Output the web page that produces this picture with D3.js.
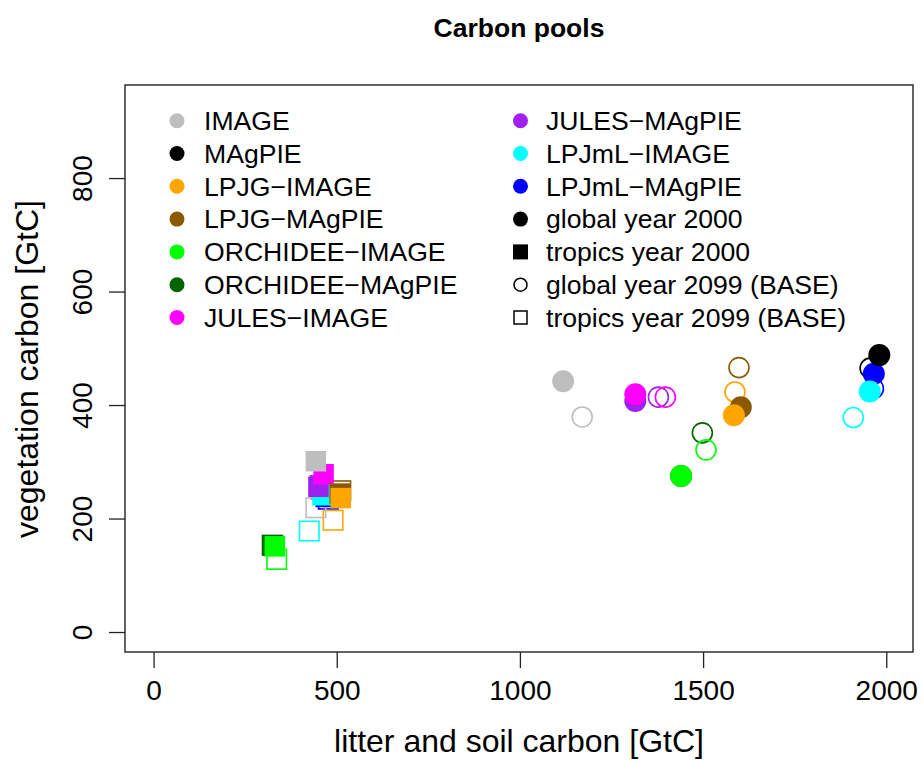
<!DOCTYPE html>
<html>
<head>
<meta charset="utf-8">
<script src="https://cdn.jsdelivr.net/npm/d3@7"></script>
<style>
  html, body { margin: 0; padding: 0; background: #fff; }
  svg { display: block; font-family: "Liberation Sans", Arial, Helvetica, sans-serif; }
</style>
</head>
<body>
<svg id="chart" width="923" height="761"></svg>
<script>
// Model runs and their colours
const models = ["IMAGE", "MAgPIE", "LPJG\u2212IMAGE", "LPJG\u2212MAgPIE", "ORCHIDEE\u2212IMAGE",
                "ORCHIDEE\u2212MAgPIE", "JULES\u2212IMAGE", "JULES\u2212MAgPIE", "LPJmL\u2212IMAGE", "LPJmL\u2212MAgPIE"];
const colors = ["#BEBEBE", "#000000", "#FFA500", "#8B5A00", "#00FF00",
                "#006400", "#FF00FF", "#A020F0", "#00FFFF", "#0000FF"];

// Litter and soil carbon (x) and vegetation carbon (y), GtC, per model (null = not available)
const globalSoil2000 = [1118, 1981, 1584, 1603, 1440, 1440, 1315, 1315, 1955, 1966];
const globalVeg2000  = [ 442,  488,  382,  396,  275,  275,  419,  407,  424,  455];
const globalSoil2099 = [1170, 1956, 1587, 1598, 1508, 1498, 1397, 1378, 1910, 1965];
const globalVeg2099  = [ 379,  465,  423,  466,  321,  351,  414,  414,  378,  429];
const tropicsSoil2000 = [443, null, 511, 508, 331, 327, 464, 450, 461, 470];
const tropicsVeg2000  = [301, null, 236, 244, 151, 152, 278, 256, 241, 238];
const tropicsSoil2099 = [443, null, 490, 511, 336, 324, 457, 455, 425, 477];
const tropicsVeg2099  = [219, null, 197, 249, 128, 153, 252, 258, 178, 234];

const xTicks = [0, 500, 1000, 1500, 2000];
const yTicks = [0, 200, 400, 600, 800];

const typeLabels = ["global year 2000", "tropics year 2000", "global year 2099 (BASE)", "tropics year 2099 (BASE)"];

const svg = d3.select("#chart");
const box = { left: 125, right: 913, top: 85, bottom: 652 };

const x = d3.scaleLinear().domain([-78, 2073]).range([box.left, box.right]);
const y = d3.scaleLinear().domain([-35.2, 964]).range([box.bottom, box.top]);

// Title
svg.append("text")
  .attr("x", (box.left + box.right) / 2).attr("y", 37)
  .attr("text-anchor", "middle")
  .attr("font-weight", "bold").attr("font-size", 26.5)
  .text("Carbon pools");

// Axes (R-style: ticks only, plot frame drawn separately)
const xAxis = d3.axisBottom(x).tickValues(xTicks).tickSize(16).tickFormat(d3.format("d"));
const gx = svg.append("g").attr("transform", `translate(0,${box.bottom})`).call(xAxis);
gx.select(".domain").remove();
gx.selectAll(".tick line").attr("stroke", "#222").attr("stroke-width", 1.3);
gx.selectAll(".tick text").attr("font-size", 28).attr("fill", "#000")
  .attr("dy", null).attr("y", 48);

const yAxis = d3.axisLeft(y).tickValues(yTicks).tickSize(16).tickFormat(d3.format("d"));
const gy = svg.append("g").attr("transform", `translate(${box.left},0)`).call(yAxis);
gy.select(".domain").remove();
gy.selectAll(".tick line").attr("stroke", "#222").attr("stroke-width", 1.3);
gy.selectAll(".tick text").attr("font-size", 28).attr("fill", "#000")
  .attr("x", null).attr("dy", null)
  .attr("text-anchor", "middle")
  .attr("transform", "translate(-33,0) rotate(-90)");

svg.append("rect")
  .attr("x", box.left).attr("y", box.top)
  .attr("width", box.right - box.left).attr("height", box.bottom - box.top)
  .attr("fill", "none").attr("stroke", "#222").attr("stroke-width", 1.4);

// Axis titles
svg.append("text")
  .attr("x", (box.left + box.right) / 2).attr("y", 752)
  .attr("text-anchor", "middle").attr("font-size", 32)
  .text("litter and soil carbon [GtC]");
svg.append("text")
  .attr("transform", `translate(38,${(box.top + box.bottom) / 2 + 0.5}) rotate(-90)`)
  .attr("text-anchor", "middle").attr("font-size", 32)
  .text("vegetation carbon [GtC]");

// Points
const plot = svg.append("g");
const order = d3.range(models.length).reverse();
const R_FILL = 11, R_OPEN = 10, S_FILL = 20.5, S_OPEN = 19.5, SW = 1.6;

function pts(xs, ys) {
  return order.filter(i => xs[i] != null && ys[i] != null)
    .map(i => ({ x: xs[i], y: ys[i], c: colors[i] }));
}

plot.selectAll(".sq2099").data(pts(tropicsSoil2099, tropicsVeg2099)).join("rect")
  .attr("x", d => x(d.x) - S_OPEN / 2).attr("y", d => y(d.y) - S_OPEN / 2)
  .attr("width", S_OPEN).attr("height", S_OPEN)
  .attr("fill", "none").attr("stroke", d => d.c).attr("stroke-width", SW);

plot.selectAll(".ci2099").data(pts(globalSoil2099, globalVeg2099)).join("circle")
  .attr("cx", d => x(d.x)).attr("cy", d => y(d.y)).attr("r", R_OPEN)
  .attr("fill", "none").attr("stroke", d => d.c).attr("stroke-width", SW);

plot.selectAll(".sq2000").data(pts(tropicsSoil2000, tropicsVeg2000)).join("rect")
  .attr("x", d => x(d.x) - S_FILL / 2).attr("y", d => y(d.y) - S_FILL / 2)
  .attr("width", S_FILL).attr("height", S_FILL)
  .attr("fill", d => d.c);

plot.selectAll(".ci2000").data(pts(globalSoil2000, globalVeg2000)).join("circle")
  .attr("cx", d => x(d.x)).attr("cy", d => y(d.y)).attr("r", R_FILL)
  .attr("fill", d => d.c);

// Legend
const rowY = k => 120.7 + 32.8 * k;
const leg = svg.append("g").attr("font-size", 26.6);
const colLeft = { sym: 177, txt: 204 }, colRight = { sym: 520.5, txt: 546 };

const modelEntries = models.map((m, i) => ({
  label: m, color: colors[i],
  col: i < 7 ? colLeft : colRight, row: i < 7 ? i : i - 7
}));
modelEntries.forEach(e => {
  leg.append("circle").attr("cx", e.col.sym).attr("cy", rowY(e.row)).attr("r", 7.5).attr("fill", e.color);
  leg.append("text").attr("x", e.col.txt).attr("y", rowY(e.row) + 9.3).text(e.label);
});

typeLabels.forEach((t, k) => {
  const cy = rowY(3 + k), cx = colRight.sym;
  if (k === 0) leg.append("circle").attr("cx", cx).attr("cy", cy).attr("r", 7.5).attr("fill", "#000");
  if (k === 1) leg.append("rect").attr("x", cx - 7.5).attr("y", cy - 7.5).attr("width", 15).attr("height", 15).attr("fill", "#000");
  if (k === 2) leg.append("circle").attr("cx", cx).attr("cy", cy).attr("r", 6.5).attr("fill", "none").attr("stroke", "#000").attr("stroke-width", 1.5);
  if (k === 3) leg.append("rect").attr("x", cx - 6.5).attr("y", cy - 6.5).attr("width", 13).attr("height", 13).attr("fill", "none").attr("stroke", "#000").attr("stroke-width", 1.5);
  leg.append("text").attr("x", colRight.txt).attr("y", cy + 9.3).text(t);
});
</script>
</body>
</html>
